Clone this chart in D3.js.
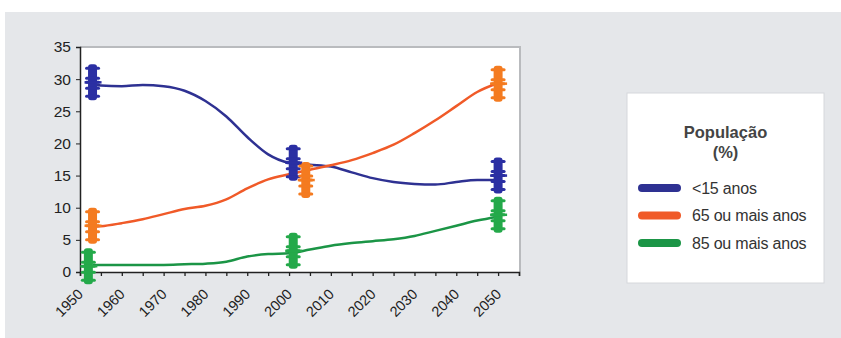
<!DOCTYPE html>
<html>
<head>
<meta charset="utf-8">
<script src="https://d3js.org/d3.v7.min.js"></script>
<style>
    body { margin: 0; background: #ffffff; }
    text { font-family: "Liberation Sans", Arial, sans-serif; }
</style>
</head>
<body>
<svg id="drawing_region"></svg>
<script>
// values
const years    = [1953, 1955, 1960, 1965, 1970, 1975, 1980, 1985, 1990, 1995, 2000,
                  2005, 2010, 2015, 2020, 2025, 2030, 2035, 2040, 2045, 2050];
const under15  = [29.2, 29.0, 28.9, 29.1, 28.9, 28.2, 26.6, 24.2, 21.0, 18.3, 17.0,
                  16.7, 16.4, 15.5, 14.6, 14.0, 13.7, 13.6, 14.0, 14.3, 14.3];
const over65   = [7.0, 7.1, 7.6, 8.2, 9.0, 9.8, 10.3, 11.3, 13.0, 14.4, 15.2,
                  15.9, 16.6, 17.4, 18.5, 19.8, 21.6, 23.6, 25.8, 28.0, 29.4];
const over85   = [1.1, 1.1, 1.1, 1.1, 1.1, 1.2, 1.3, 1.6, 2.4, 2.8, 2.9,
                  3.5, 4.1, 4.5, 4.8, 5.1, 5.6, 6.4, 7.2, 8.0, 8.6];

// hand drawn highlight marks on 1950, 2000 and 2050
const under15MarkYears = [1953, 2001, 2050];
const under15Marks     = [29.5, 17.0, 15.0];
const over65MarkYears  = [1953, 2004, 2050];
const over65Marks      = [7.2, 14.3, 29.3];
const over85MarkYears  = [1952, 2001, 2050];
const over85Marks      = [0.9, 3.3, 8.9];

const seriesNames = ['<15 anos', '65 ou mais anos', '85 ou mais anos'];
const legendTitle = ['População', '(%)'];
const xLabels = [1950, 1960, 1970, 1980, 1990, 2000, 2010, 2020, 2030, 2040, 2050];
const yTicks = [0, 5, 10, 15, 20, 25, 30, 35];

const lineColors = ['#2e3192', '#f05a28', '#1b9546'];
const markColors = ['#2b2fa3', '#f47b20', '#24a94a'];

class LineChart {

    constructor(config, series) {
        this.config = config;
        this.series = series;
        this.init();
    }

    init() {
        let self = this;
        let c = self.config;

        self.svg = d3.select(c.parent)
            .attr('width', c.width)
            .attr('height', c.height);

        // grey panel behind everything
        self.svg.append('rect')
            .attr('x', 5).attr('y', 12)
            .attr('width', c.width - 5).attr('height', c.height - 12)
            .attr('fill', '#e5e7ea');

        self.xscale = d3.scaleLinear()
            .domain([1950, 2055])
            .range([c.plot.left, c.plot.right - 1]);

        self.yscale = d3.scaleLinear()
            .domain([0, 35])
            .range([c.plot.bottom, c.plot.top]);

        self.line = d3.line()
            .x(d => self.xscale(d[0]))
            .y(d => self.yscale(d[1]))
            .curve(d3.curveMonotoneX);
    }

    update() {
        let self = this;
        self.render();
    }

    render() {
        let self = this;
        let c = self.config;
        let p = c.plot;

        // plot area
        self.svg.append('rect')
            .attr('x', p.left).attr('y', p.top)
            .attr('width', p.right - p.left).attr('height', p.bottom - p.top)
            .attr('fill', '#ffffff');
        self.svg.append('path')
            .attr('d', `M${p.left},${p.top}H${p.right}V${p.bottom}`)
            .attr('fill', 'none')
            .attr('stroke', '#b9bbbe')
            .attr('stroke-width', 2);

        // axes
        const xaxis = d3.axisBottom(self.xscale)
            .tickValues(d3.range(1950, 2056, 5))
            .tickSize(4)
            .tickFormat('');
        const xg = self.svg.append('g')
            .attr('transform', `translate(0, ${p.bottom})`)
            .call(xaxis);
        xg.select('.domain').attr('stroke', '#222').attr('stroke-width', 1.5);
        xg.selectAll('.tick line').attr('stroke', '#222').attr('stroke-width', 1.3);

        self.svg.append('g')
            .selectAll('text')
            .data(xLabels)
            .join('text')
            .attr('transform', d => `translate(${self.xscale(d) + 4}, ${p.bottom + 23}) rotate(-45)`)
            .attr('text-anchor', 'end')
            .attr('font-size', 14.5)
            .attr('fill', '#222')
            .text(d => d);

        const yaxis = d3.axisLeft(self.yscale)
            .tickValues(yTicks)
            .tickSize(4)
            .tickPadding(5);
        const yg = self.svg.append('g')
            .attr('transform', `translate(${p.left}, 0)`)
            .call(yaxis);
        yg.select('.domain').attr('stroke', '#222').attr('stroke-width', 1.5);
        yg.selectAll('.tick line').attr('stroke', '#222');
        yg.selectAll('.tick text')
            .attr('font-size', 15.5)
            .attr('font-family', '"Liberation Sans", Arial, sans-serif')
            .attr('fill', '#222');

        // lines
        self.series.forEach((s, i) => {
            self.svg.append('path')
                .datum(s.values.map((v, k) => [years[k], v]))
                .attr('d', self.line)
                .attr('fill', 'none')
                .attr('stroke', lineColors[i])
                .attr('stroke-width', 2.5);
        });

        // highlight marks
        self.series.forEach((s, i) => {
            const g = self.svg.append('g')
                .selectAll('g')
                .data(s.marks.map((v, k) => [s.markYears[k], v]))
                .join('g')
                .attr('transform', d => `translate(${self.xscale(d[0])}, ${self.yscale(d[1])})`);
            g.append('rect')
                .attr('x', -4.5).attr('y', -c.markHalf)
                .attr('width', 9).attr('height', c.markHalf * 2)
                .attr('rx', 3)
                .attr('fill', markColors[i]);
            g.selectAll('line')
                .data([-c.markHalf + 4, -4, 0, 6, c.markHalf - 4])
                .join('line')
                .attr('x1', -6).attr('x2', 6)
                .attr('y1', d => d).attr('y2', d => d)
                .attr('stroke', markColors[i])
                .attr('stroke-width', 3)
                .attr('stroke-linecap', 'round');
            g.append('line')
                .attr('x1', -8).attr('x2', 9)
                .attr('stroke', markColors[i])
                .attr('stroke-width', 2.5);
        });

        // legend
        const lg = self.svg.append('g')
            .attr('transform', `translate(${c.legend.x}, ${c.legend.y})`);
        lg.append('rect')
            .attr('width', c.legend.w).attr('height', c.legend.h)
            .attr('fill', '#ffffff')
            .attr('stroke', '#d6d8db');
        lg.selectAll('.title')
            .data(legendTitle)
            .join('text')
            .attr('class', 'title')
            .attr('x', c.legend.w / 2)
            .attr('y', (d, i) => 45 + i * 20)
            .attr('text-anchor', 'middle')
            .attr('font-size', 16.5)
            .attr('font-weight', 'bold')
            .attr('fill', '#444')
            .text(d => d);
        const items = lg.selectAll('.item')
            .data(seriesNames)
            .join('g')
            .attr('class', 'item')
            .attr('transform', (d, i) => `translate(0, ${95 + i * 27.5})`);
        items.append('line')
            .attr('x1', 15).attr('x2', 50)
            .attr('stroke', (d, i) => lineColors[i])
            .attr('stroke-width', 8)
            .attr('stroke-linecap', 'round');
        items.append('text')
            .attr('x', 65)
            .attr('dy', '0.35em')
            .attr('font-size', 16)
            .attr('fill', '#333')
            .attr('letter-spacing', -0.2)
            .text(d => d);
    }
}

const config = {
    parent: '#drawing_region',
    width: 841,
    height: 338,
    plot: { left: 80, right: 520, top: 47, bottom: 272 },
    legend: { x: 627, y: 93, w: 197, h: 190 },
    markHalf: 18
};

const series = [
    { name: seriesNames[0], values: under15, markYears: under15MarkYears, marks: under15Marks },
    { name: seriesNames[1], values: over65, markYears: over65MarkYears, marks: over65Marks },
    { name: seriesNames[2], values: over85, markYears: over85MarkYears, marks: over85Marks }
];

const linechart = new LineChart(config, series);
linechart.update();
</script>
</body>
</html>
